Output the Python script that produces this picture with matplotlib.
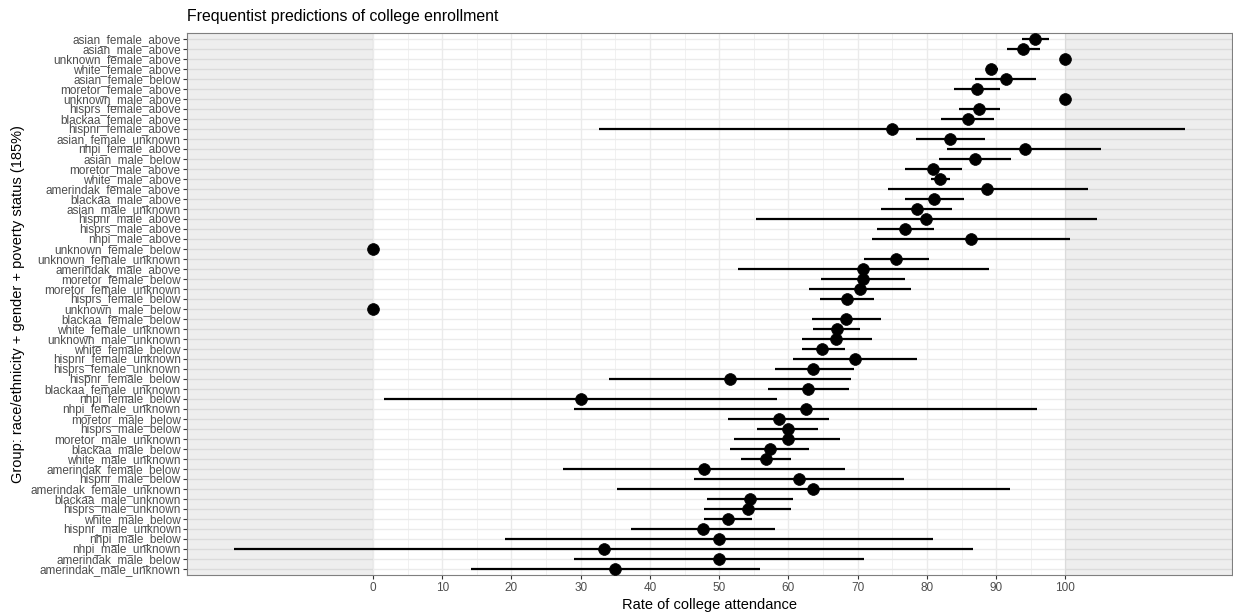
import numpy as np
import matplotlib
matplotlib.use('Agg')
import matplotlib.pyplot as plt

plt.rcParams['font.family'] = ['Liberation Sans', 'DejaVu Sans']

# groups, top to bottom
groups = [
    'asian_female_above', 'asian_male_above', 'unknown_female_above', 'white_female_above',
    'asian_female_below', 'moretor_female_above', 'unknown_male_above', 'hisprs_female_above',
    'blackaa_female_above', 'hispnr_female_above', 'asian_female_unknown', 'nhpi_female_above',
    'asian_male_below', 'moretor_male_above', 'white_male_above', 'amerindak_female_above',
    'blackaa_male_above', 'asian_male_unknown', 'hispnr_male_above', 'hisprs_male_above',
    'nhpi_male_above', 'unknown_female_below', 'unknown_female_unknown', 'amerindak_male_above',
    'moretor_female_below', 'moretor_female_unknown', 'hisprs_female_below', 'unknown_male_below',
    'blackaa_female_below', 'white_female_unknown', 'unknown_male_unknown', 'white_female_below',
    'hispnr_female_unknown', 'hisprs_female_unknown', 'hispnr_female_below', 'blackaa_female_unknown',
    'nhpi_female_below', 'nhpi_female_unknown', 'moretor_male_below', 'hisprs_male_below',
    'moretor_male_unknown', 'blackaa_male_below', 'white_male_unknown', 'amerindak_female_below',
    'hispnr_male_below', 'amerindak_female_unknown', 'blackaa_male_unknown', 'hisprs_male_unknown',
    'white_male_below', 'hispnr_male_unknown', 'nhpi_male_below', 'nhpi_male_unknown',
    'amerindak_male_below', 'amerindak_male_unknown',
]

rate = [
    95.6, 93.9, 100.0, 89.2, 91.4, 87.2, 100.0, 87.5, 85.9, 74.9,
    83.3, 94.1, 87.0, 80.9, 81.9, 88.7, 81.0, 78.5, 79.9, 76.9,
    86.3, 0.0, 75.6, 70.8, 70.7, 70.3, 68.4, 0.0, 68.3, 67.0,
    66.9, 64.9, 69.6, 63.6, 51.6, 62.8, 30.0, 62.5, 58.6, 59.9,
    59.9, 57.3, 56.7, 47.8, 61.5, 63.6, 54.5, 54.1, 51.3, 47.7,
    50.0, 33.3, 50.0, 35.0,
]

lower = [
    93.8, 91.5, 100.0, 88.5, 87.0, 83.9, 100.0, 84.6, 82.1, 32.6,
    78.4, 82.9, 81.7, 76.9, 80.6, 74.4, 76.9, 73.3, 55.3, 72.8,
    72.1, 0.0, 70.9, 52.7, 64.7, 62.9, 64.5, 0.0, 63.4, 63.6,
    61.9, 61.9, 60.7, 58.0, 34.1, 57.0, 1.6, 29.0, 51.3, 55.5,
    52.2, 51.6, 53.1, 27.4, 46.3, 35.2, 48.3, 47.8, 47.8, 37.3,
    19.0, -20.0, 29.1, 14.1,
]

upper = [
    97.7, 96.3, 100.0, 90.2, 95.8, 90.5, 100.0, 90.5, 89.7, 117.2,
    88.4, 105.2, 92.2, 85.0, 83.3, 103.2, 85.4, 83.6, 104.6, 81.0,
    100.6, 0.0, 80.3, 88.9, 76.8, 77.7, 72.3, 0.0, 73.3, 70.3,
    72.0, 68.1, 78.5, 69.4, 69.1, 68.7, 58.3, 95.9, 65.9, 64.3,
    67.4, 63.0, 60.3, 68.2, 76.7, 92.0, 60.6, 60.3, 54.7, 58.1,
    80.9, 86.6, 70.9, 55.9,
]

n = len(groups)
ypos = np.arange(n, 0, -1)  # first group on top

fig = plt.figure(figsize=(12.33, 6.13), dpi=100)
ax = fig.add_axes([187 / 1233, 1 - 575 / 613, 1045 / 1233, 542 / 613])

# grid
ax.set_axisbelow(True)
ax.set_xticks(np.arange(0, 101, 10))
ax.set_xticks(np.arange(5, 100, 10), minor=True)
ax.set_yticks(ypos)
ax.set_yticklabels(groups)
ax.grid(True, which='major', color='#EBEBEB', lw=1.0, zorder=0)
ax.grid(True, which='minor', axis='x', color='#EBEBEB', lw=0.5, zorder=0)

lo_all = min(lower)
hi_all = max(upper)
pad = 0.05 * (hi_all - lo_all)
xmin, xmax = lo_all - pad, hi_all + pad
ax.set_xlim(xmin, xmax)
ax.set_ylim(0.4, n + 0.6)

# shaded impossible regions
ax.axvspan(xmin, 0, color='black', alpha=0.065, lw=0, zorder=1)
ax.axvspan(100, xmax, color='black', alpha=0.065, lw=0, zorder=1)

ax.hlines(ypos, lower, upper, color='black', lw=1.6, zorder=3)
ax.plot(rate, ypos, 'o', color='black', ms=8.5, mew=0.5, zorder=4)

for s in ax.spines.values():
    s.set_color('#7F7F7F')
    s.set_linewidth(0.8)

ax.tick_params(axis='both', which='major', length=3, width=0.8, color='#333333',
               labelsize=8.5, labelcolor='#4D4D4D', pad=2)
ax.tick_params(axis='x', which='minor', length=0)
ax.tick_params(axis='y', pad=1.5)

ax.set_title('Frequentist predictions of college enrollment', loc='left',
             fontsize=11.4, pad=9)
ax.set_xlabel('Rate of college attendance', fontsize=10.5, labelpad=3)
ax.set_ylabel('Group: race/ethnicity + gender + poverty status (185%)', fontsize=10.5,
              labelpad=4)

plt.savefig('out.png', dpi=100)
plt.close()
